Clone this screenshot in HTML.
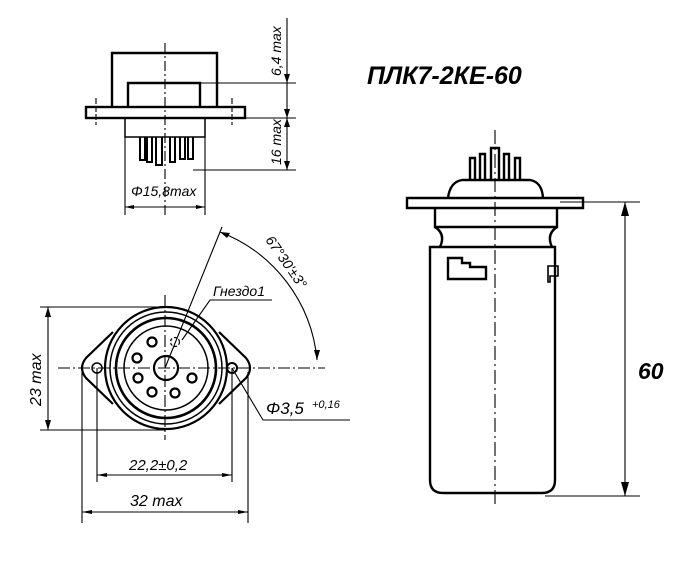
<!DOCTYPE html>
<html><head><meta charset="utf-8"><style>
html,body{margin:0;padding:0;background:#fff;width:685px;height:561px;overflow:hidden}
svg{display:block}
text{font-family:"Liberation Sans",sans-serif;font-style:italic;fill:#000}
</style></head><body>
<svg width="685" height="561" viewBox="0 0 685 561" xmlns="http://www.w3.org/2000/svg">
<g fill="none" stroke="#000" stroke-width="2.4">
<!-- top view -->
<polyline points="112,107 112,53 217,53 217,107"/>
<polyline points="128,107 128,83 200,83 200,107"/>
<rect x="86" y="107" width="159" height="11"/>
<polyline points="125,118 125,137 205,137 205,118" stroke-width="1.5"/>
<path d="M140,137 v23 h5 v-23 M147,137 v25 h5 v-25 M156,137 v28 h6 v-28 M170,137 v25 h5 v-25 M180,137 v22 h5 v-22 M188,137 v22 h5 v-22" stroke-width="2"/>
</g>
<g fill="none" stroke="#000" stroke-width="1.1">
<line x1="165" y1="43" x2="165" y2="215" stroke-dasharray="10,3,2,3"/>
<line x1="96" y1="98" x2="96" y2="125" stroke-dasharray="6,2"/>
<line x1="232" y1="98" x2="232" y2="125" stroke-dasharray="6,2"/>
<line x1="200" y1="83" x2="296" y2="83"/>
<line x1="245" y1="118" x2="296" y2="118"/>
<line x1="193" y1="170" x2="296" y2="170"/>
<line x1="287" y1="18" x2="287" y2="170"/>
<line x1="125" y1="137" x2="125" y2="215"/>
<line x1="205" y1="137" x2="205" y2="215"/>
<line x1="125" y1="207" x2="205" y2="207"/>
</g>
<text transform="translate(281,76) rotate(-90)" font-size="14">6,4 max</text>
<text transform="translate(281,165) rotate(-90)" font-size="14">16 max</text>
<text x="131" y="196" font-size="14">Φ15,8max</text>

<!-- bottom view -->
<g fill="none" stroke="#000" stroke-width="2.2">
<path d="M113,332 L86,358 Q78,368 86,378 L113,404"/>
<path d="M219,332 L246,358 Q254,368 246,378 L219,404"/>
<circle cx="166" cy="368" r="61"/>
<circle cx="166" cy="368" r="56" stroke-width="1.5"/>
<circle cx="166" cy="368" r="50" stroke-width="2.6"/>
<circle cx="166" cy="368" r="42" stroke-width="1.5"/>
<circle cx="166" cy="368" r="12"/>
<circle cx="97" cy="368" r="5" stroke-width="1.5"/>
<circle cx="232" cy="368" r="5" stroke-width="2"/>
<circle cx="152" cy="342" r="4.5"/>
<circle cx="137" cy="358" r="4.5"/>
<circle cx="138" cy="378" r="4.5"/>
<circle cx="152" cy="392" r="4.5"/>
<circle cx="175" cy="393" r="4.5"/>
<circle cx="192" cy="378" r="4.5"/>
<circle cx="175" cy="342" r="4.5" stroke-dasharray="3,2" stroke-width="1.2"/>
</g>
<g fill="none" stroke="#000" stroke-width="1.1">
<line x1="58" y1="368" x2="325" y2="368" stroke-dasharray="12,3,2,3"/>
<line x1="165" y1="295" x2="165" y2="440" stroke-dasharray="12,3,2,3"/>
<line x1="40" y1="307" x2="160" y2="307"/>
<line x1="40" y1="430" x2="165" y2="430"/>
<line x1="48" y1="307" x2="48" y2="430"/>
<line x1="97" y1="368" x2="97" y2="482"/>
<line x1="232" y1="368" x2="232" y2="482"/>
<line x1="97" y1="475" x2="232" y2="475"/>
<line x1="82" y1="372" x2="82" y2="523"/>
<line x1="248" y1="372" x2="248" y2="523"/>
<line x1="82" y1="512" x2="248" y2="512"/>
<line x1="165" y1="368" x2="222" y2="227"/>
<path d="M220,232 A152,152 0 0 1 317,360"/>
<polyline points="182,340 210,300 272,300"/>
<polyline points="232,368 263,420 350,420"/>
</g>
<g fill="#000">
<path d="M48,307 l-3,10 h6z M48,430 l-3,-10 h6z"/>
<path d="M97,475 l10,-2 v4z M232,475 l-10,-2 v4z"/>
<path d="M82,512 l10,-2 v4z M248,512 l-10,-2 v4z"/>
<path d="M287,83 l-3,-9 h6z M287,118 l-3,9 h6z M287,118 l-3,-9 h6z M287,170 l-3,-9 h6z"/>
<path d="M125,207 l9,-2 v4z M205,207 l-9,-2 v4z"/>
<path d="M220,232 l10,1 l-3,5z M317,360 l-3,-10 l6,0z"/>
</g>
<text transform="translate(41,406) rotate(-90)" font-size="16">23 max</text>
<text x="129" y="470" font-size="15">22,2±0,2</text>
<text x="130" y="506" font-size="16">32 max</text>
<text x="213" y="296" font-size="14">Гнездо1</text>
<text transform="translate(265,240) rotate(55)" font-size="14">67°30'±3°</text>
<text x="266" y="414" font-size="17">Φ3,5</text>
<text x="312" y="408" font-size="11">+0,16</text>

<!-- right view -->
<g fill="none" stroke="#000" stroke-width="2.4">
<path d="M448,198 Q450,182 462,180 L530,180 Q542,182 543,198"/>
<path d="M470,180 v-22 h5 v22 M480,180 v-26 h5 v26 M491,180 v-32 h8 v32 M504,180 v-26 h5 v26 M515,180 v-22 h5 v22"/>
<path d="M407,198 H583 V208 H407 Z"/>
<path d="M435,208 V227 H557 V208"/>
<path d="M435,227 Q446,234 440,247 M557,227 Q546,234 552,247"/>
<path d="M432,247 H555 V480 Q555,493 542,493 H443 Q430,493 430,480 V247 Z"/>
<path d="M448,258 h14 v5 h8 v4 h16 v12 h-38 z"/>
<path d="M548,266 h10 v10 h-8 v6 h-2 z" stroke-width="1.6"/>
</g>
<g fill="none" stroke="#000" stroke-width="1.1">
<line x1="495" y1="130" x2="495" y2="508" stroke-dasharray="14,4,2,4"/>
<line x1="560" y1="202" x2="640" y2="202"/>
<line x1="545" y1="496" x2="640" y2="496"/>
<line x1="625" y1="202" x2="625" y2="496"/>
</g>
<g fill="#000"><path d="M625,202 l-4,14 h8z M625,496 l-4,-14 h8z"/></g>
<text x="638" y="379" font-size="23" font-weight="bold">60</text>
<text x="367" y="84" font-size="25" font-weight="bold">ПЛК7-2КЕ-60</text>
</svg>
</body></html>
